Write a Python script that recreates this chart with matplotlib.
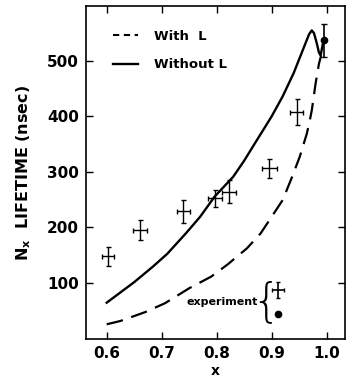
import matplotlib

matplotlib.use("Agg")
import matplotlib.pyplot as plt
from matplotlib.lines import Line2D

# Calculated lifetime curves (x, nsec)
WITH_L_X = [0.600, 0.625, 0.670, 0.706, 0.750, 0.790, 0.820, 0.855, 0.880, 0.900,
            0.920, 0.936, 0.951, 0.964, 0.970, 0.973, 0.980, 0.986, 0.990]
WITH_L_Y = [25, 31, 47, 63, 90, 111, 133, 162, 189, 219,
            249, 288, 327, 369, 396, 411, 460, 495, 510]

WITHOUT_L_X = [0.600, 0.623, 0.650, 0.684, 0.710, 0.744, 0.770, 0.796, 0.830, 0.850,
               0.873, 0.885, 0.900, 0.920, 0.940, 0.952, 0.962, 0.968, 0.973, 0.977,
               0.982, 0.986, 0.989, 0.993]
WITHOUT_L_Y = [64, 81, 101, 129, 152, 189, 219, 255, 291, 320,
               357, 376, 400, 436, 478, 508, 533, 548, 555, 550,
               532, 515, 510, 530]

# Experiment, crosses
EXP_X = [0.602, 0.661, 0.739, 0.797, 0.823, 0.896, 0.9455]
EXP_Y = [148, 195, 229, 252, 264, 306, 408]
EXP_YERR = [17, 18, 21, 16, 21, 18, 23]
EXP_XERR = [0.011, 0.013, 0.012, 0.012, 0.013, 0.014, 0.012]

# Experiment, dot
DOT_X = [0.995]
DOT_Y = [537]
DOT_YERR = [30]

plt.rcParams["font.family"] = ["DejaVu Sans"]
plt.rcParams["font.weight"] = "bold"

fig = plt.figure(figsize=(3.46, 3.83), dpi=100)
ax = fig.add_axes([0.2486, 0.1149, 0.7484, 0.8694])

ax.plot(WITH_L_X, WITH_L_Y, color="black", lw=1.6, dashes=(7.5, 4))
ax.plot(WITHOUT_L_X, WITHOUT_L_Y, color="black", lw=1.7)

ax.errorbar(EXP_X, EXP_Y, xerr=EXP_XERR, yerr=EXP_YERR, fmt="none",
            ecolor="black", elinewidth=1.0, capsize=1.8, capthick=1.0)
ax.errorbar(DOT_X, DOT_Y, yerr=DOT_YERR, fmt="o", ms=4.5, color="black",
            ecolor="black", elinewidth=1.2, capsize=2.0, capthick=1.0)

ax.set_xlim(0.5624, 1.0333)
ax.set_ylim(-1.5, 599)
ax.set_xticks([0.6, 0.7, 0.8, 0.9, 1.0])
ax.set_xticklabels(["0.6", "0.7", "0.8", "0.9", "1.0"])
ax.set_yticks([100, 200, 300, 400, 500])
ax.tick_params(direction="in", length=5, width=1.0, top=True, right=True,
               labelsize=11, pad=5)
for lbl in ax.get_xticklabels() + ax.get_yticklabels():
    lbl.set_fontweight("bold")
for sp in ax.spines.values():
    sp.set_linewidth(1.2)

ax.set_xlabel("x", fontsize=10, fontweight="bold", labelpad=2)
ax.set_ylabel(r"N$_\mathbf{x}$  LIFETIME (nsec)", fontsize=11.5, fontweight="bold",
              labelpad=10)

handles = [Line2D([], [], color="black", lw=1.5, dashes=(3, 2.2)),
           Line2D([], [], color="black", lw=1.7)]
leg = ax.legend(handles, ["With  L", "Without L"], loc="upper left", frameon=False,
                fontsize=9.5, handlelength=1.9, handletextpad=1.2, labelspacing=1.2,
                borderaxespad=0.0, bbox_to_anchor=(0.085, 0.945))
for t in leg.get_texts():
    t.set_fontweight("bold")

# experiment key
ax.text(0.664, 0.111, "experiment", transform=ax.transAxes, ha="right", va="center",
        fontsize=8, fontweight="bold")
ax.text(0.695, 0.112, "{", transform=ax.transAxes, ha="center", va="center",
        fontsize=33, fontweight="light")
ax.errorbar([0.741], [0.147], xerr=[0.022], yerr=[0.024], fmt="none", ecolor="black",
            elinewidth=1.2, capsize=1.5, transform=ax.transAxes)
ax.plot([0.741], [0.075], "o", ms=4.5, color="black", transform=ax.transAxes)

fig.savefig("out.png", dpi=100)
